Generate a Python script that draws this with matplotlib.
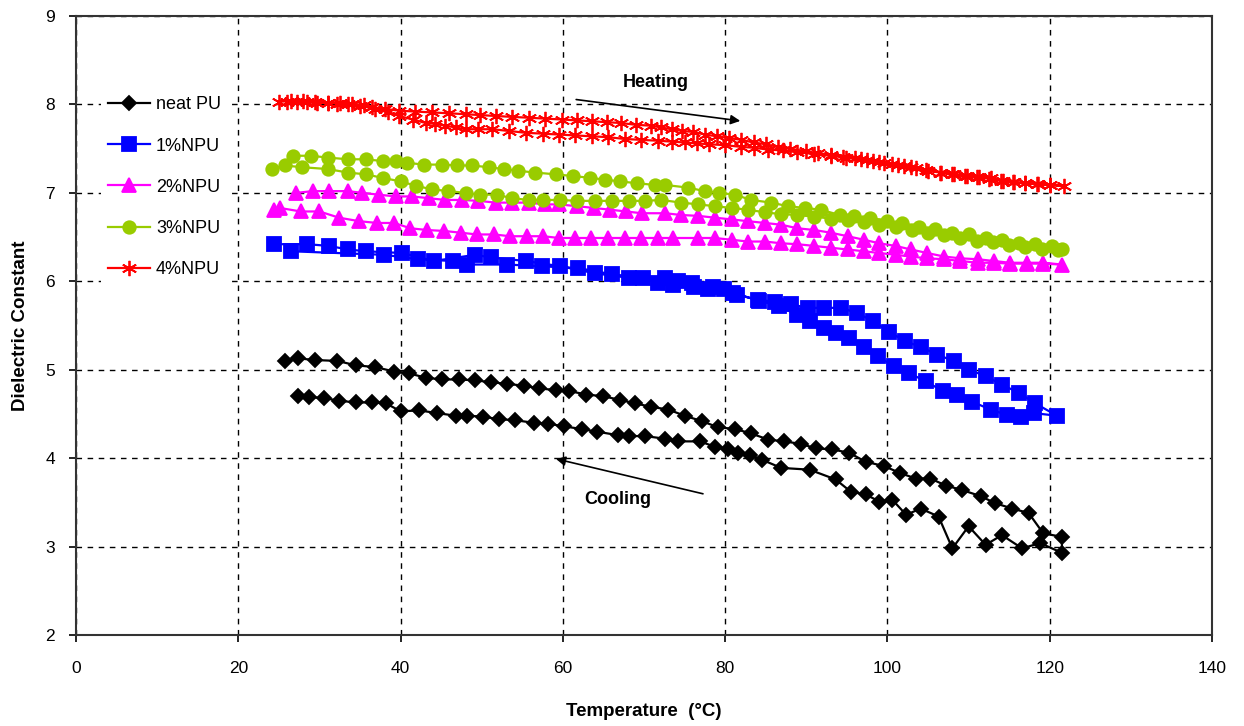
"""Dielectric constant vs temperature for neat PU and NPU composites (heating/cooling)."""
import matplotlib
matplotlib.use("Agg")
import matplotlib.pyplot as plt
import numpy as np

plt.rcParams["font.family"] = ["Liberation Sans", "DejaVu Sans"]

# ---------------------------------------------------------------------------
# Data: heating branch then cooling branch
# ---------------------------------------------------------------------------
neat_heat_t = [25.7, 27.3, 29.4, 32.2, 34.5, 36.9, 39.2, 41.0, 43.1, 45.1, 47.2, 49.2,
               51.1, 53.1, 55.2, 57.0, 59.1, 60.7, 62.9, 65.0, 67.0, 68.9, 70.9, 73.0,
               75.0, 77.1, 79.1, 81.2, 83.2, 85.3, 87.3, 89.4, 91.2, 93.2, 95.3, 97.3,
               99.6, 101.6, 103.5, 105.3, 107.2, 109.2, 111.5, 113.3, 115.4, 117.4,
               119.2, 121.5]
neat_heat_v = [5.10, 5.13, 5.11, 5.10, 5.05, 5.03, 4.98, 4.96, 4.91, 4.89, 4.89, 4.88,
               4.86, 4.84, 4.82, 4.79, 4.77, 4.76, 4.72, 4.70, 4.66, 4.62, 4.58, 4.55,
               4.48, 4.42, 4.35, 4.33, 4.28, 4.21, 4.19, 4.16, 4.11, 4.10, 4.06, 3.96,
               3.91, 3.83, 3.77, 3.77, 3.69, 3.64, 3.57, 3.49, 3.43, 3.38,
               3.15, 3.11]
neat_cool_t = [121.5, 118.8, 116.6, 114.1, 112.1, 110.0, 108.0, 106.3, 104.1, 102.3,
               100.6, 99.0, 97.3, 95.5, 93.6, 90.4, 86.9, 84.6, 83.0, 81.6, 80.3, 78.7,
               76.9, 74.2, 72.6, 70.1, 68.1, 66.8, 64.2, 62.3, 60.1, 58.2, 56.4, 54.1,
               52.1, 50.2, 48.2, 46.8, 44.5, 42.3, 40.0, 38.2, 36.5, 34.5, 32.4, 30.6,
               28.7, 27.3]
neat_cool_v = [2.93, 3.04, 2.98, 3.13, 3.02, 3.23, 2.98, 3.34, 3.43, 3.36,
               3.53, 3.51, 3.59, 3.62, 3.76, 3.87, 3.89, 3.98, 4.04, 4.06, 4.10, 4.13,
               4.19, 4.19, 4.22, 4.25, 4.25, 4.26, 4.30, 4.33, 4.36, 4.39, 4.40, 4.43,
               4.44, 4.47, 4.48, 4.48, 4.51, 4.54, 4.53, 4.62, 4.63, 4.63, 4.65, 4.68,
               4.69, 4.70]

npu1_heat_t = [24.4, 28.5, 31.2, 33.5, 35.7, 40.2, 44.1, 49.2, 51.1, 55.4, 59.7, 64.0,
               68.1, 72.6, 74.2, 76.2, 77.9, 79.9, 81.4, 84.0, 86.1, 88.1, 90.2, 92.2,
               94.3, 96.3, 98.2, 100.2, 102.2, 104.1, 106.1, 108.2, 110.0, 112.1,
               114.1, 116.2, 118.2, 120.9]
npu1_heat_v = [6.42, 6.42, 6.40, 6.36, 6.34, 6.32, 6.23, 6.30, 6.27, 6.23, 6.17, 6.09,
               6.04, 6.04, 6.00, 5.94, 5.91, 5.91, 5.85, 5.79, 5.77, 5.74, 5.70, 5.70,
               5.70, 5.64, 5.55, 5.43, 5.32, 5.26, 5.17, 5.10, 5.00, 4.93,
               4.83, 4.74, 4.62, 4.48]
npu1_cool_t = [118.0, 116.4, 114.7, 112.7, 110.4, 108.6, 106.8, 104.7, 102.7, 100.8,
               98.8, 97.1, 95.3, 93.6, 92.2, 90.4, 88.9, 86.6, 84.2, 81.0, 78.5, 75.9,
               73.6, 71.7, 69.9, 66.0, 61.9, 57.4, 53.1, 48.2, 46.4, 42.1, 38.0, 26.5]
npu1_cool_v = [4.51, 4.47, 4.49, 4.55, 4.64, 4.72, 4.76, 4.87, 4.96, 5.04,
               5.15, 5.26, 5.36, 5.41, 5.47, 5.55, 5.62, 5.72, 5.78, 5.87, 5.94, 5.98,
               5.96, 5.98, 6.04, 6.08, 6.15, 6.17, 6.19, 6.19, 6.23, 6.25, 6.30, 6.34]

npu2_heat_t = [24.4, 25.1, 27.7, 30.0, 32.4, 34.9, 37.1, 39.2, 41.2, 43.3, 45.3, 47.4,
               49.4, 51.5, 53.5, 55.6, 57.6, 59.5, 61.5, 63.5, 65.5, 67.6, 69.6, 71.7,
               73.6, 76.7, 78.7, 80.8, 82.8, 84.9, 86.9, 88.9, 91.0, 93.0, 95.1, 97.1,
               99.0, 101.0, 102.9, 104.9, 107.0, 109.0, 111.1, 113.1, 115.1, 117.2,
               119.2, 121.5]
npu2_heat_v = [6.81, 6.83, 6.79, 6.79, 6.72, 6.68, 6.66, 6.66, 6.60, 6.58, 6.57, 6.55,
               6.53, 6.53, 6.51, 6.51, 6.51, 6.49, 6.49, 6.49, 6.49, 6.49, 6.49, 6.49,
               6.49, 6.49, 6.49, 6.47, 6.45, 6.45, 6.43, 6.42, 6.40, 6.38, 6.36, 6.34,
               6.32, 6.30, 6.28, 6.26, 6.25, 6.23, 6.21, 6.21, 6.20, 6.20,
               6.20, 6.19]
npu2_cool_t = [119.2, 117.2, 115.1, 113.1, 111.1, 109.0, 107.0, 104.9, 102.9, 101.0,
               99.0, 97.1, 95.1, 93.0, 91.0, 88.9, 86.9, 84.9, 82.8, 80.8, 78.7, 76.7,
               74.6, 72.6, 69.7, 67.8, 65.8, 63.8, 61.7, 59.5, 57.8, 55.8, 53.7, 51.7,
               49.6, 47.6, 45.5, 43.5, 41.4, 39.4, 37.3, 35.3, 33.5, 31.2, 29.2, 27.1]
npu2_cool_v = [6.21, 6.21, 6.21, 6.23, 6.25, 6.26, 6.28, 6.32, 6.36, 6.40,
               6.43, 6.47, 6.51, 6.55, 6.58, 6.60, 6.64, 6.66, 6.68, 6.70, 6.72, 6.74,
               6.75, 6.77, 6.77, 6.79, 6.81, 6.83, 6.85, 6.87, 6.87, 6.89, 6.89, 6.89,
               6.91, 6.92, 6.92, 6.94, 6.96, 6.96, 6.98, 7.00, 7.02, 7.02, 7.02, 7.00]

npu3_heat_t = [24.2, 25.7, 27.9, 31.0, 33.5, 35.7, 37.8, 40.0, 41.9, 43.9, 45.9, 48.0,
               49.8, 51.9, 53.7, 55.8, 57.6, 59.7, 61.7, 64.0, 66.0, 68.1, 70.1, 72.1,
               74.6, 76.7, 78.7, 80.8, 82.8, 84.9, 86.9, 88.9, 91.0, 93.0, 95.1, 97.1,
               99.0, 101.0, 103.0, 105.0, 107.0, 109.0, 111.0, 113.0, 115.0, 117.0,
               119.0, 121.0]
npu3_heat_v = [7.27, 7.31, 7.29, 7.27, 7.23, 7.21, 7.17, 7.13, 7.08, 7.04, 7.02, 7.00,
               6.98, 6.98, 6.94, 6.92, 6.92, 6.92, 6.91, 6.91, 6.91, 6.91, 6.91, 6.92,
               6.89, 6.87, 6.85, 6.83, 6.81, 6.78, 6.76, 6.75, 6.73, 6.71, 6.69, 6.67,
               6.64, 6.61, 6.58, 6.55, 6.52, 6.49, 6.46, 6.44, 6.41, 6.39,
               6.37, 6.35]
npu3_cool_t = [121.5, 120.3, 118.2, 116.2, 114.1, 112.1, 110.0, 108.0, 105.9, 103.9,
               101.8, 100.0, 97.9, 95.9, 94.1, 91.8, 89.8, 87.7, 85.7, 83.2, 81.2, 79.3,
               77.5, 75.4, 72.6, 71.3, 69.1, 67.0, 65.2, 63.4, 61.3, 59.1, 56.6, 54.5,
               52.7, 50.9, 48.8, 47.0, 45.1, 42.9, 40.8, 39.4, 37.8, 35.7, 33.5, 31.0,
               28.9, 26.7]
npu3_cool_v = [6.36, 6.40, 6.42, 6.43, 6.47, 6.49, 6.53, 6.55, 6.59, 6.62,
               6.66, 6.68, 6.72, 6.74, 6.75, 6.81, 6.83, 6.85, 6.89, 6.92, 6.98, 7.00,
               7.02, 7.06, 7.09, 7.09, 7.11, 7.13, 7.15, 7.17, 7.19, 7.21, 7.23, 7.25,
               7.27, 7.29, 7.31, 7.31, 7.32, 7.32, 7.34, 7.36, 7.36, 7.38, 7.38, 7.40,
               7.42, 7.42]

npu4_heat_t = [25.0, 26.5, 28.0, 29.5, 31.0, 32.5, 34.0, 35.5, 36.9, 38.5, 39.8, 41.5,
               43.1, 44.3, 45.5, 46.8, 48.0, 49.6, 51.3, 53.4, 55.4, 57.5, 59.5, 61.5,
               63.6, 65.6, 67.6, 69.6, 71.7, 73.4, 75.0, 76.5, 78.0, 80.0, 82.0, 83.6,
               85.3, 87.1, 88.9, 91.0, 93.0, 94.9, 96.7, 98.2, 99.6, 101.3, 102.9,
               104.8, 106.6, 108.2, 109.8, 111.3, 112.7, 114.2, 115.6, 117.0, 118.4,
               120.0, 121.7]
npu4_heat_v = [8.03, 8.04, 8.04, 8.03, 8.02, 8.02, 8.01, 7.99, 7.95, 7.91, 7.87, 7.83,
               7.79, 7.78, 7.76, 7.74, 7.72, 7.72, 7.72, 7.70, 7.68, 7.67, 7.66, 7.65,
               7.64, 7.63, 7.61, 7.60, 7.59, 7.58, 7.57, 7.56, 7.55, 7.54, 7.52, 7.51,
               7.49, 7.48, 7.46, 7.44, 7.42, 7.40, 7.38, 7.36, 7.34, 7.31, 7.29,
               7.26, 7.23, 7.21, 7.19, 7.18, 7.17, 7.14, 7.12, 7.11, 7.10,
               7.09, 7.08]
npu4_cool_t = [120.0, 118.5, 117.0, 115.5, 114.0, 112.5, 111.0, 109.5, 108.0, 106.5,
               105.0, 103.5, 102.0, 100.5, 99.0, 97.5, 96.0, 94.5, 93.0, 91.5, 90.0,
               88.0, 86.5, 85.0, 83.5, 82.0, 80.5, 79.0, 77.5, 76.0, 74.7, 73.4, 72.1,
               70.9, 69.0, 67.2, 65.4, 63.6, 61.7, 59.9, 57.8, 55.8, 53.7, 51.7, 49.8,
               48.0, 46.0, 43.9, 41.8, 39.8, 38.1, 36.5, 35.0, 33.5, 32.2, 31.0, 29.7,
               28.5, 27.2, 26.0]
npu4_cool_v = [7.09, 7.10, 7.11, 7.12, 7.14, 7.16, 7.18, 7.19, 7.21, 7.23,
               7.25, 7.28, 7.30, 7.33, 7.35, 7.37, 7.39, 7.41, 7.43, 7.45, 7.47,
               7.50, 7.52, 7.55, 7.57, 7.60, 7.62, 7.64, 7.66, 7.69, 7.70, 7.72, 7.74,
               7.76, 7.77, 7.79, 7.80, 7.81, 7.82, 7.83, 7.84, 7.85, 7.86, 7.87, 7.88,
               7.89, 7.90, 7.91, 7.92, 7.93, 7.95, 7.97, 7.98, 8.00, 8.01, 8.02, 8.02,
               8.03, 8.03, 8.03]

SERIES = [
    ("neat PU", neat_heat_t + neat_cool_t, neat_heat_v + neat_cool_v, "black", "D", 7.5),
    ("1%NPU", npu1_heat_t + npu1_cool_t, npu1_heat_v + npu1_cool_v, "#0000ff", "s", 9.5),
    ("2%NPU", npu2_heat_t + npu2_cool_t, npu2_heat_v + npu2_cool_v, "#ff00ff", "^", 10),
    ("3%NPU", npu3_heat_t + npu3_cool_t, npu3_heat_v + npu3_cool_v, "#99cc00", "o", 9),
    ("4%NPU", npu4_heat_t + npu4_cool_t, npu4_heat_v + npu4_cool_v, "#ff0000", (6, 2, 0), 11),
]

# ---------------------------------------------------------------------------
# Plot
# ---------------------------------------------------------------------------
fig = plt.figure(figsize=(12.44, 7.26), dpi=100)
ax = fig.add_axes([0.0611, 0.1253, 0.9132, 0.8526])

for label, t, v, color, marker, ms in SERIES:
    ax.plot(t, v, color=color, linewidth=1.6, marker=marker, markersize=ms,
            markerfacecolor=color, markeredgecolor=color, markeredgewidth=1.3,
            label=label)

ax.set_xlim(0, 140)
ax.set_ylim(2, 9)
ax.set_xticks(np.arange(0, 141, 20))
ax.set_yticks(np.arange(2, 10, 1))
ax.grid(True, color="black", linestyle=(0, (4, 4)), linewidth=1.0)
ax.set_axisbelow(True)
for sp in ax.spines.values():
    sp.set_linewidth(1.5)
    sp.set_color("#333333")
ax.tick_params(direction="out", length=5, width=1.2, labelsize=12.5)
ax.tick_params(axis="x", pad=14)
ax.tick_params(axis="y", pad=10)

ax.set_xlabel("Temperature  (\u00b0C)", fontsize=13.5, fontweight="bold", labelpad=19)
ax.set_ylabel("Dielectric Constant", fontsize=13.5, fontweight="bold", labelpad=12)

ax.annotate("", xy=(82.2, 7.81), xytext=(61.3, 8.06),
            arrowprops=dict(arrowstyle="-|>", color="black", lw=1.2, mutation_scale=14))
ax.text(71.4, 8.25, "Heating", fontsize=13, fontweight="bold", ha="center", va="center")
ax.annotate("", xy=(58.8, 4.00), xytext=(77.6, 3.59),
            arrowprops=dict(arrowstyle="-|>", color="black", lw=1.2, mutation_scale=14))
ax.text(66.8, 3.53, "Cooling", fontsize=13, fontweight="bold", ha="center", va="center")

leg = ax.legend(loc="upper left", bbox_to_anchor=(0.022, 0.882), frameon=True, fontsize=13,
                handlelength=2.3, handletextpad=0.35, labelspacing=1.34, borderaxespad=0.0,
                fancybox=False, framealpha=1.0)
leg.get_frame().set_facecolor("white")
leg.get_frame().set_edgecolor("none")

fig.savefig("out.png", dpi=100)
